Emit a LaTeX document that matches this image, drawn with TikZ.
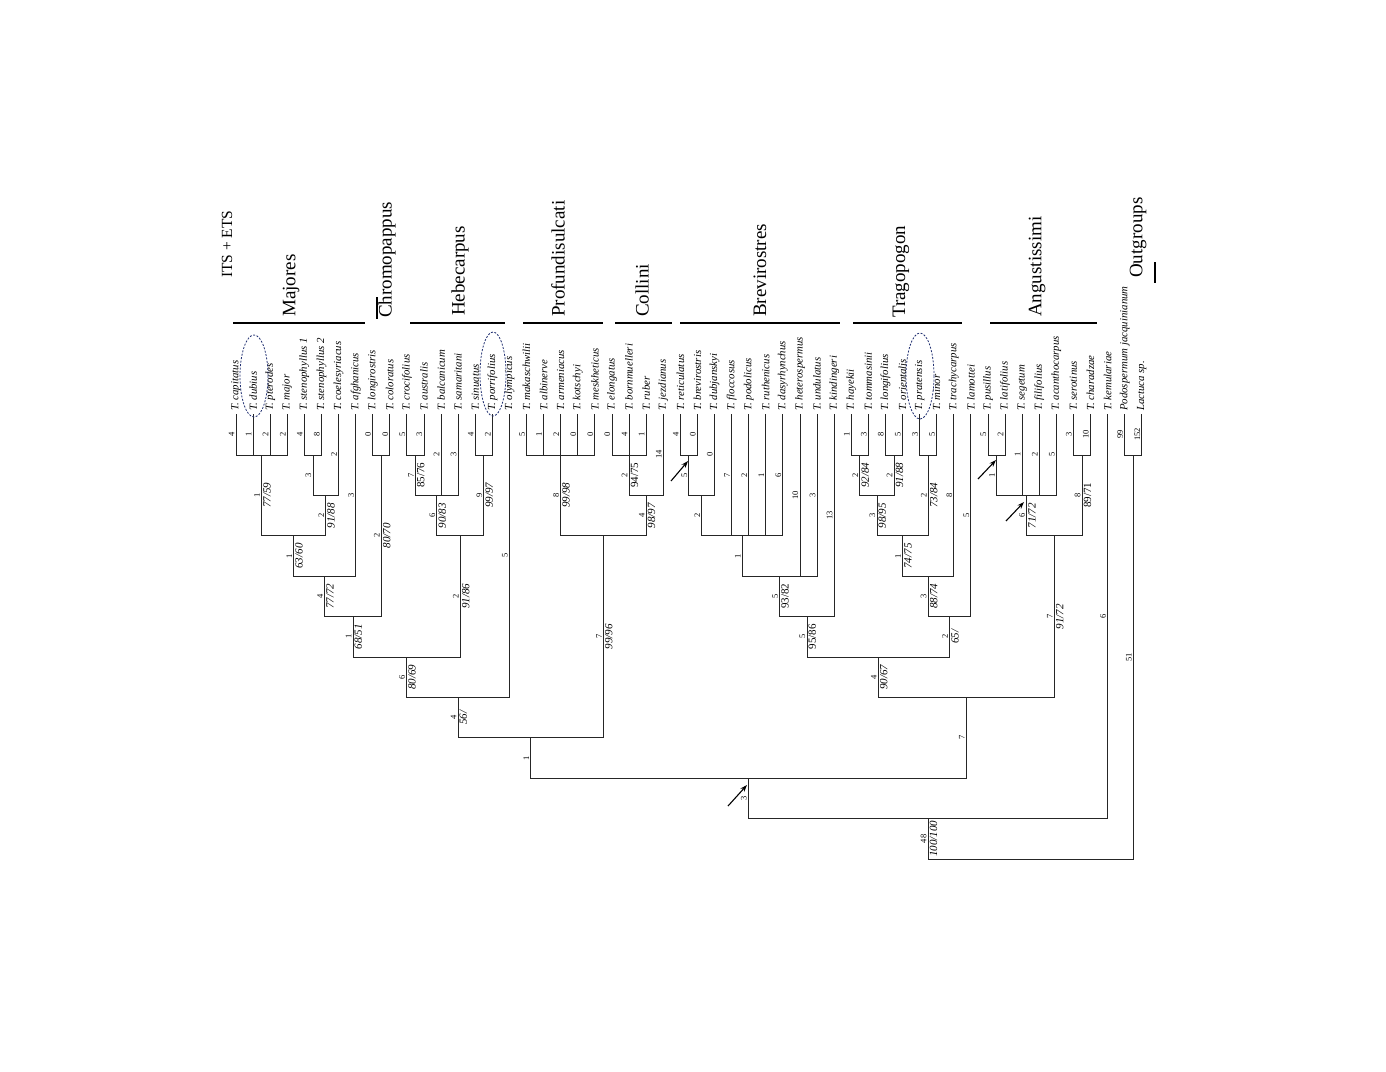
\documentclass[tikz,border=0pt]{standalone}
\usepackage{fontspec}
\setmainfont{Liberation Serif}
\usetikzlibrary{calc,arrows.meta}
\definecolor{ovalblue}{RGB}{35,50,115}
\newcommand{\edge}[3]{\draw[branch] (#1) |- (#2); \path (#1) -- (#1 |- #2) node[midway,len]{#3};}
\newcommand{\edgeb}[4]{\draw[branch] (#1) |- (#2); \path (#1) -- (#1 |- #2) node[midway,len]{#3} node[midway,bs]{#4};}
\newcommand{\edgeu}[4]{\draw[branch] (#1) |- (#2); \path (#1) -- (#1 |- #2) node[midway,len]{#3} node[midway,bsu]{#4};}
\begin{document}
\begin{tikzpicture}[x=1pt,y=-1pt,
  branch/.style={draw=black!85, line width=0.9pt},
  taxon/.style={rotate=90, anchor=west, inner sep=0pt, font=\fontsize{10.8}{12}\selectfont\itshape},
  len/.style={rotate=90, anchor=south, inner sep=1.5pt, font=\fontsize{8.5}{10}\selectfont},
  bs/.style={rotate=90, anchor=north, inner sep=1.5pt, font=\fontsize{11}{13}\selectfont\itshape},
  bsu/.style={rotate=90, anchor=north, inner sep=1.5pt, font=\fontsize{11}{13}\selectfont},
  clade/.style={rotate=90, anchor=west, inner sep=0pt, font=\fontsize{19}{22}\selectfont},
  cladebar/.style={line width=1.5pt},
  sidebar/.style={draw=black, line width=1.4pt},
  oval/.style={draw=ovalblue, dash pattern=on 2pt off 1.5pt, line width=0.8pt},
  arr/.style={-{Stealth[length=7pt,width=5pt]}, line width=1.1pt}
]
\useasboundingbox[fill=white] (0,0) rectangle (1386,1071);

% tips
\foreach \lab [count=\i] in {T. capitatus, T. dubius, T. pterodes, T. major, T. stenophyllus 1, T. stenophyllus 2, T. coelesyriacus, T. afghanicus, T. longirostris, T. coloratus, T. crocifolius, T. australis, T. balcanicum, T. samaritani, T. sinuatus, T. porrifolius, T. olympicus, T. makaschwilii, T. albinerve, T. armeniacus, T. kotschyi, T. meskheticus, T. elongatus, T. bornmuelleri, T. ruber, T. jezdianus, T. reticulatus, T. brevirostris, T. dubjanskyi, T. floccosus, T. podolicus, T. ruthenicus, T. dasyrhynchus, T. heterospermus, T. undulatus, T. kindingeri, T. hayekii, T. tommasinii, T. longifolius, T. orientalis, T. pratensis, T. minor, T. trachycarpus, T. lamottei, T. pusillus, T. latifolius, T. segetum, T. filifolius, T. acanthocarpus, T. serotinus, T. charadzae, T. kemulariae, Podospermum jacquinianum, Lactuca sp.}{
  \coordinate (t\i) at ({236+(\i-1)*17.09}, 414);
  \node[taxon] (lab\i) at ({236+(\i-1)*17.09}, 411) {\lab};
}

% internal nodes
\coordinate (nA) at (261.65,455);
\coordinate (nSt) at (312.95,455);
\coordinate (nC) at (325.7,495.4);
\coordinate (nD) at (293.7,535.8);
\coordinate (nE) at (324.65,576.2);
\coordinate (nCh) at (381.25,455);
\coordinate (nF) at (352.95,616.6);
\coordinate (nHa) at (415.45,455);
\coordinate (nG) at (436.8,495.4);
\coordinate (nSP) at (483.85,455);
\coordinate (nH) at (460.3,535.8);
\coordinate (nI) at (406.6,657);
\coordinate (nJ) at (458.0,697.4);
\coordinate (nPr) at (560.7,455);
\coordinate (nCoA) at (629.1,455);
\coordinate (nCo) at (646.2,495.4);
\coordinate (nK) at (603.45,535.8);
\coordinate (nL) at (530.7,737.8);
\coordinate (nBa) at (688.85,455);
\coordinate (nBb) at (701.7,495.4);
\coordinate (nBc) at (742.3,535.8);
\coordinate (nBd) at (779.7,576.2);
\coordinate (nBe) at (806.95,616.6);
\coordinate (nTa) at (859.85,455);
\coordinate (nTb) at (894.05,455);
\coordinate (nTc) at (876.95,495.4);
\coordinate (nTd) at (928.25,455);
\coordinate (nTe) at (902.6,535.8);
\coordinate (nTf) at (928.25,576.2);
\coordinate (nTg) at (949.6,616.6);
\coordinate (nM) at (878.3,657);
\coordinate (nAa) at (996.65,455);
\coordinate (nAb) at (1026.6,495.4);
\coordinate (nAc) at (1082.15,455);
\coordinate (nAd) at (1054.4,535.8);
\coordinate (nN) at (966.35,697.4);
\coordinate (nO) at (748.5,778.2);
\coordinate (nP) at (928.15,818.6);
\coordinate (nOut) at (1133.45,455);
\coordinate (root) at (1030.8,859);

% Majores
\edge{t1}{nA}{4} \edge{t2}{nA}{1} \edge{t3}{nA}{2} \edge{t4}{nA}{2}
\edge{t5}{nSt}{4} \edge{t6}{nSt}{8}
\edge{nSt}{nC}{3} \edge{t7}{nC}{2}
\edgeb{nA}{nD}{1}{77/59} \edgeb{nC}{nD}{2}{91/88}
\edgeb{nD}{nE}{1}{63/60} \edge{t8}{nE}{3}
\edgeb{nE}{nF}{4}{77/72}
% Chromopappus
\edge{t9}{nCh}{0} \edge{t10}{nCh}{0}
\edgeb{nCh}{nF}{2}{80/70}
\edgeb{nF}{nI}{1}{68/51}
% Hebecarpus
\edge{t11}{nHa}{5} \edge{t12}{nHa}{3}
\edgeu{nHa}{nG}{7}{85/76}
\edge{t13}{nG}{2} \edge{t14}{nG}{3}
\edgeb{nG}{nH}{6}{90/83}
\edge{t15}{nSP}{4} \edge{t16}{nSP}{2}
\edgeb{nSP}{nH}{9}{99/97}
\edgeb{nH}{nI}{2}{91/86}
\edgeb{nI}{nJ}{6}{80/69}
\edge{t17}{nJ}{5}
\edgeb{nJ}{nL}{4}{56/}
% Profundisulcati
\edge{t18}{nPr}{5} \edge{t19}{nPr}{1} \edge{t20}{nPr}{2} \edge{t21}{nPr}{0} \edge{t22}{nPr}{0}
\edgeb{nPr}{nK}{8}{99/98}
% Collini
\edge{t23}{nCoA}{0} \edge{t24}{nCoA}{4} \edge{t25}{nCoA}{1}
\edgeu{nCoA}{nCo}{2}{94/75}
\edge{t26}{nCo}{14}
\edgeb{nCo}{nK}{4}{98/97}
\edgeb{nK}{nL}{7}{99/96}
\edge{nL}{nO}{1}
% Brevirostres
\edge{t27}{nBa}{4} \edge{t28}{nBa}{0}
\edge{nBa}{nBb}{5} \edge{t29}{nBb}{0}
\edge{nBb}{nBc}{2}
\edge{t30}{nBc}{7} \edge{t31}{nBc}{2} \edge{t32}{nBc}{1} \edge{t33}{nBc}{6}
\edge{nBc}{nBd}{1}
\edge{t34}{nBd}{10} \edge{t35}{nBd}{3}
\edgeu{nBd}{nBe}{5}{93/82}
\edge{t36}{nBe}{13}
\edgeu{nBe}{nM}{5}{95/86}
% Tragopogon
\edge{t37}{nTa}{1} \edge{t38}{nTa}{3}
\edgeb{nTa}{nTc}{2}{92/84}
\edge{t39}{nTb}{8} \edge{t40}{nTb}{5}
\edgeb{nTb}{nTc}{2}{91/88}
\edgeb{nTc}{nTe}{3}{98/95}
\edge{t41}{nTd}{3} \edge{t42}{nTd}{5}
\edgeb{nTd}{nTe}{2}{73/84}
\edgeb{nTe}{nTf}{1}{74/75}
\edge{t43}{nTf}{8}
\edgeb{nTf}{nTg}{3}{88/74}
\edge{t44}{nTg}{5}
\edgeb{nTg}{nM}{2}{65/}
\edgeb{nM}{nN}{4}{90/67}
% Angustissimi
\edge{t45}{nAa}{5} \edge{t46}{nAa}{2}
\edge{nAa}{nAb}{1}
\edge{t47}{nAb}{1} \edge{t48}{nAb}{2} \edge{t49}{nAb}{5}
\edgeb{nAb}{nAd}{6}{71/72}
\edge{t50}{nAc}{3} \edge{t51}{nAc}{10}
\edgeu{nAc}{nAd}{8}{89/71}
\edgeb{nAd}{nN}{7}{91/72}
\edge{nN}{nO}{7}
\edge{nO}{nP}{3}
\edge{t52}{nP}{6}
\edgeb{nP}{root}{48}{100/100}
\edge{t53}{nOut}{99} \edge{t54}{nOut}{152}
\edge{nOut}{root}{51}

% clade bars and names
\node[rotate=90, anchor=west, inner sep=0pt, font=\fontsize{15.5}{18}\selectfont] (its) at (227,278) {ITS + ETS};
\coordinate (majL) at (233,323); \coordinate (majR) at (365,323);
\draw[cladebar] (majL) -- (majR);
\node[clade] (majores) at (291,317) {Majores};
\coordinate (chrA) at (377,297); \coordinate (chrB) at (377,319);
\draw[sidebar] (chrA) -- (chrB);
\node[clade] (chromo) at (387,318) {Chromopappus};
\coordinate (hebL) at (410,323); \coordinate (hebR) at (505,323);
\draw[cladebar] (hebL) -- (hebR);
\node[clade] (hebe) at (460,316) {Hebecarpus};
\coordinate (proL) at (523,323); \coordinate (proR) at (603,323);
\draw[cladebar] (proL) -- (proR);
\node[clade] (profu) at (558,317) {Profundisulcati};
\coordinate (colL) at (615,323); \coordinate (colR) at (672,323);
\draw[cladebar] (colL) -- (colR);
\node[clade] (colli) at (642,317) {Collini};
\coordinate (breL) at (680,323); \coordinate (breR) at (840,323);
\draw[cladebar] (breL) -- (breR);
\node[clade] (brevi) at (760,317) {Brevirostres};
\coordinate (traL) at (853,323); \coordinate (traR) at (962,323);
\draw[cladebar] (traL) -- (traR);
\node[clade] (trago) at (901,318) {Tragopogon};
\coordinate (angL) at (990,323); \coordinate (angR) at (1097,323);
\draw[cladebar] (angL) -- (angR);
\node[clade] (angus) at (1037,317) {Angustissimi};
\node[clade] (outg) at (1138,278) {Outgroups};
\coordinate (outA) at (1155,262); \coordinate (outB) at (1155,283);
\draw[sidebar] (outA) -- (outB);

% dashed ovals
\draw[oval] (254,376) ellipse [x radius=14, y radius=41];
\draw[oval] (493,374) ellipse [x radius=13, y radius=42];
\draw[oval] (920,376) ellipse [x radius=14, y radius=43];

% arrows
\coordinate (a1s) at (671,481); \coordinate (a1e) at (688,461);
\coordinate (a2s) at (978,479); \coordinate (a2e) at (996,460);
\coordinate (a3s) at (1006,521); \coordinate (a3e) at (1024,502);
\coordinate (a4s) at (728,806); \coordinate (a4e) at (747,785);
\draw[arr] (a1s) -- (a1e);
\draw[arr] (a2s) -- (a2e);
\draw[arr] (a3s) -- (a3e);
\draw[arr] (a4s) -- (a4e);
\end{tikzpicture}
\end{document}
